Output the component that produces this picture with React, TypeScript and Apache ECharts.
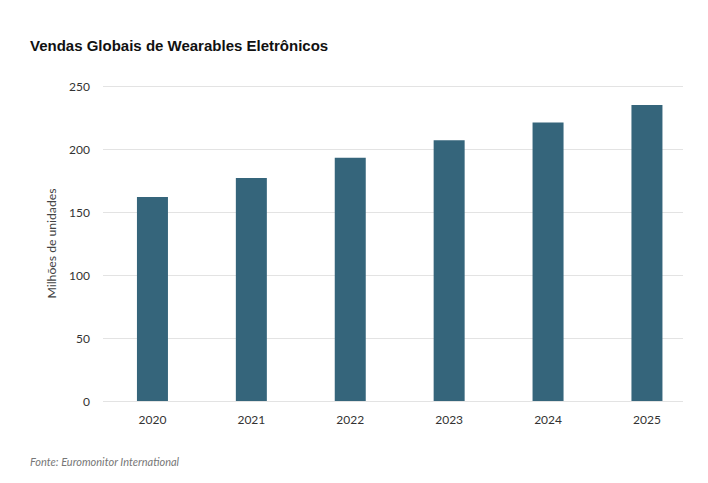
import { useEffect, useRef } from 'react';
import * as echarts from 'echarts';

const years = ['2020', '2021', '2022', '2023', '2024', '2025'];
const sales = [162, 177, 193, 207, 221, 235];

const FONT = 'Lato, "Noto Sans", sans-serif';

export default function App() {
  const chartRef = useRef<HTMLDivElement>(null);

  useEffect(() => {
    if (!chartRef.current) return;
    const chart = echarts.init(chartRef.current, null, { renderer: 'svg' });

    chart.setOption({
      animation: false,
      backgroundColor: '#ffffff',
      textStyle: { fontFamily: FONT },
      title: {
        text: 'Vendas Globais de Wearables Eletrônicos',
        left: 30,
        top: 38,
        padding: 0,
        textStyle: {
          fontFamily: '"Liberation Sans", Arial, sans-serif',
          fontSize: 15,
          fontWeight: 'bold',
          color: '#111111',
        },
      },
      grid: [
        { left: 103, right: 11.6, top: 86, bottom: 82 },
        { left: 103, right: 25, top: 86, bottom: 82 },
      ],
      xAxis: [
        {
          type: 'category',
          gridIndex: 0,
          data: years,
          axisLine: { show: false },
          axisTick: { show: false },
          axisLabel: { color: '#333333', fontSize: 12, margin: 12 },
        },
        {
          type: 'value',
          gridIndex: 1,
          show: false,
        },
      ],
      yAxis: [
        {
          type: 'value',
          gridIndex: 0,
          min: 0,
          max: 250,
          interval: 50,
          name: 'Milhões de unidades',
          nameLocation: 'middle',
          nameGap: 46,
          nameTextStyle: { color: '#444444', fontSize: 12.2 },
          axisLine: { show: false },
          axisTick: { show: false },
          splitLine: { show: false },
          axisLabel: { color: '#333333', fontSize: 12, margin: 13 },
        },
        {
          type: 'value',
          gridIndex: 1,
          min: 0,
          max: 250,
          interval: 50,
          axisLine: { show: false },
          axisTick: { show: false },
          axisLabel: { show: false },
          splitLine: { lineStyle: { color: '#e3e3e3', width: 1 } },
        },
      ],
      series: [
        {
          type: 'bar',
          xAxisIndex: 0,
          yAxisIndex: 0,
          data: sales,
          barWidth: 31,
          itemStyle: { color: '#35657b' },
          z: 3,
        },
      ],
      graphic: [
        {
          type: 'text',
          left: 30,
          top: 456,
          style: {
            text: 'Fonte: Euromonitor International',
            fill: '#777777',
            font: `italic 11px ${FONT}`,
          },
        },
      ],
    });

    return () => {
      chart.dispose();
    };
  }, []);

  return (
    <div
      ref={chartRef}
      style={{ position: 'fixed', left: 0, top: 0, width: '708px', height: '483px' }}
    />
  );
}
